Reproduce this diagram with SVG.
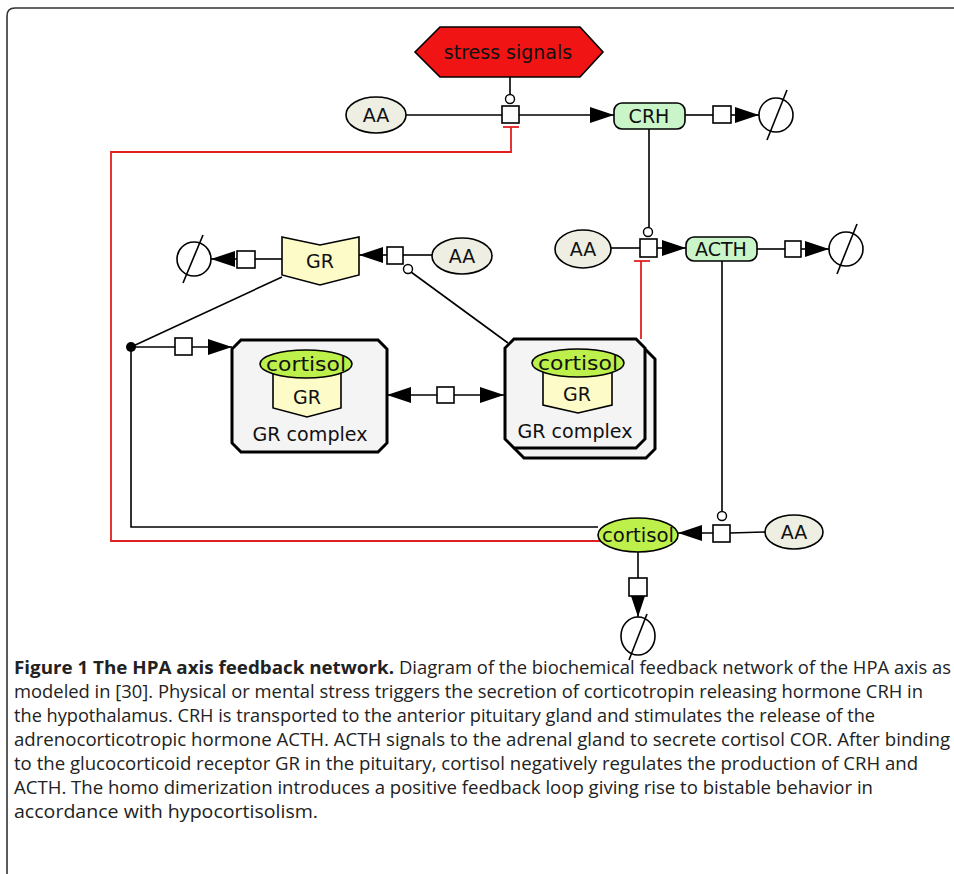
<svg xmlns="http://www.w3.org/2000/svg" width="954" height="874" viewBox="0 0 954 874">
<style>
.ln{fill:none;stroke:#000;stroke-width:1.6}
.red{fill:none;stroke:#e02020;stroke-width:1.8}
.proc{fill:#fff;stroke:#000;stroke-width:1.6}
.aa{fill:#eeeee2;stroke:#000;stroke-width:1.6}
.hor{fill:#c9f5c9;stroke:#000;stroke-width:1.6}
.cort{fill:#bdf04a;stroke:#000;stroke-width:1.6}
.gr{fill:#fdfbc8;stroke:#000;stroke-width:1.6}
.cx{fill:#f4f4f4;stroke:#000;stroke-width:3}
.es{fill:#fff;stroke:#000;stroke-width:1.6}
.mod{fill:#fff;stroke:#000;stroke-width:1.4}
.t{font-family:"DejaVu Sans","Liberation Sans",sans-serif;font-size:19px;fill:#111;text-anchor:middle}
.cap{font-family:"Open Sans","Liberation Sans",sans-serif;font-size:18px;fill:#222}
</style>
<defs>
<marker id="arr" viewBox="0 0 24 16" refX="24" refY="8" markerWidth="24" markerHeight="16" markerUnits="userSpaceOnUse" orient="auto-start-reverse">
<path d="M0,0 L24,8 L0,16 Z" fill="#000"/>
</marker>
</defs>

<path d="M954,8 H15 Q7,8 7,16 V874" fill="none" stroke="#333" stroke-width="1.6"/>

<g id="connectors">
<path class="red" d="M600,541 H111 V152 H511 V127"/>
<line class="red" x1="503" y1="127" x2="519" y2="127"/>
<path class="red" d="M641,339 V261"/>
<line class="red" x1="634" y1="261" x2="650" y2="261"/>
<line class="ln" x1="510" y1="77" x2="510" y2="95"/>
<line class="ln" x1="406" y1="115" x2="502" y2="115"/>
<line class="ln" x1="519" y1="115" x2="614" y2="115" marker-end="url(#arr)"/>
<rect class="proc" x="502" y="106" width="17" height="17"/>
<circle class="mod" cx="510" cy="99" r="4.5"/>
<line class="ln" x1="685" y1="115" x2="713" y2="115"/>
<line class="ln" x1="731" y1="115" x2="759" y2="115" marker-end="url(#arr)"/>
<rect class="proc" x="713" y="106" width="18" height="17"/>
<line class="ln" x1="649" y1="129" x2="649" y2="228"/>
<circle class="mod" cx="648" cy="232" r="4.5"/>
<line class="ln" x1="611" y1="248" x2="640" y2="248"/>
<line class="ln" x1="657" y1="248" x2="686" y2="248" marker-end="url(#arr)"/>
<rect class="proc" x="640" y="239" width="17" height="18"/>
<line class="ln" x1="757" y1="249" x2="785" y2="249"/>
<line class="ln" x1="801" y1="249" x2="829" y2="249" marker-end="url(#arr)"/>
<rect class="proc" x="785" y="241" width="16" height="16"/>
<line class="ln" x1="722" y1="260" x2="722" y2="512"/>
<circle class="mod" cx="722" cy="516" r="4.5"/>
<line class="ln" x1="765" y1="532" x2="730" y2="533"/>
<line class="ln" x1="713" y1="533" x2="678" y2="533" marker-end="url(#arr)"/>
<rect class="proc" x="713" y="525" width="17" height="17"/>
<line class="ln" x1="638" y1="552" x2="638" y2="578"/>
<line class="ln" x1="638" y1="596" x2="638" y2="617" marker-end="url(#arr)"/>
<rect class="proc" x="629" y="578" width="18" height="18"/>
<path class="ln" d="M598,527 H131 V347"/>
<line class="ln" x1="131" y1="347" x2="282" y2="277"/>
<line class="ln" x1="131" y1="347" x2="175" y2="347"/>
<line class="ln" x1="192" y1="347" x2="232" y2="347" marker-end="url(#arr)"/>
<rect class="proc" x="175" y="338" width="17" height="17"/>
<circle cx="131" cy="347" r="5" fill="#000"/>
<line class="ln" x1="437" y1="395" x2="387" y2="395" marker-end="url(#arr)"/>
<line class="ln" x1="454" y1="395" x2="504" y2="395" marker-end="url(#arr)"/>
<rect class="proc" x="437" y="387" width="17" height="16"/>
<line class="ln" x1="282" y1="259" x2="255" y2="259"/>
<line class="ln" x1="237" y1="259" x2="211" y2="259" marker-end="url(#arr)"/>
<rect class="proc" x="237" y="251" width="18" height="17"/>
<line class="ln" x1="432" y1="255" x2="403" y2="255"/>
<line class="ln" x1="387" y1="255" x2="359" y2="255" marker-end="url(#arr)"/>
<line class="ln" x1="411" y1="272" x2="508" y2="343"/>
<rect class="proc" x="387" y="247" width="16" height="17"/>
<circle class="mod" cx="408" cy="269" r="4.5"/>
</g>

<g id="stress">
<polygon points="415,52 440,27 580,27 603,52 580,77 440,77" fill="#f01414" stroke="#000" stroke-width="1.6"/>
<text class="t" x="508" y="59" font-size="20">stress signals</text>
</g>
<g id="aa1"><ellipse class="aa" cx="376" cy="115" rx="30" ry="18"/><text class="t" x="376" y="122">AA</text></g>
<g id="crh"><rect class="hor" x="614" y="103" width="71" height="26" rx="8"/><text class="t" x="649" y="123" font-size="20">CRH</text></g>
<g id="sink1"><circle class="es" cx="776" cy="115" r="17"/><line class="ln" x1="767" y1="140" x2="787" y2="90"/></g>
<g id="aa2"><ellipse class="aa" cx="583" cy="249" rx="28" ry="19"/><text class="t" x="583" y="256">AA</text></g>
<g id="acth"><rect class="hor" x="686" y="237" width="71" height="24" rx="8"/><text class="t" x="721" y="256" font-size="20">ACTH</text></g>
<g id="sink2"><circle class="es" cx="846" cy="249" r="17"/><line class="ln" x1="837" y1="274" x2="857" y2="224"/></g>
<g id="gr">
<polygon class="gr" points="282,237 320,245 359,237 359,275 320,285 282,275"/>
<text class="t" x="320" y="268" font-size="20">GR</text>
</g>
<g id="sink3"><circle class="es" cx="194" cy="259" r="17"/><line class="ln" x1="183" y1="283" x2="203" y2="235"/></g>
<g id="aa3"><ellipse class="aa" cx="462" cy="256" rx="30" ry="18"/><text class="t" x="462" y="263">AA</text></g>
<g id="complex1">
<path class="cx" d="M241,340 H378 L387,349 V443 L378,452 H241 L232,443 V349 Z"/>
<polygon class="gr" points="273,368 341,368 341,408 307,417 273,408"/>
<text class="t" x="307" y="404" font-size="20">GR</text>
<ellipse class="cort" cx="306" cy="364" rx="46" ry="14"/>
<text class="t" x="306" y="371" font-size="19" textLength="80" lengthAdjust="spacingAndGlyphs">cortisol</text>
<text class="t" x="310" y="441" font-size="20" textLength="115" lengthAdjust="spacingAndGlyphs">GR complex</text>
</g>
<g id="complex2">
<path class="cx" d="M524,350 H646 L655,359 V449 L646,458 H524 L515,449 V359 Z"/>
<path class="cx" d="M514,339 H636 L645,348 V439 L636,448 H514 L505,439 V348 Z"/>
<polygon class="gr" points="543,367 612,367 612,405 578,413 543,405"/>
<text class="t" x="577" y="401" font-size="20">GR</text>
<ellipse class="cort" cx="578" cy="363" rx="46" ry="14"/>
<text class="t" x="578" y="370" font-size="19" textLength="80" lengthAdjust="spacingAndGlyphs">cortisol</text>
<text class="t" x="575" y="438" font-size="20" textLength="115" lengthAdjust="spacingAndGlyphs">GR complex</text>
</g>
<g id="cortisol">
<ellipse class="cort" cx="638" cy="535" rx="40" ry="17"/>
<text class="t" x="638" y="542" font-size="20" textLength="72" lengthAdjust="spacingAndGlyphs">cortisol</text>
</g>
<g id="aa4"><ellipse class="aa" cx="794" cy="532" rx="29" ry="17"/><text class="t" x="794" y="539">AA</text></g>
<g id="sink4"><ellipse class="es" cx="638" cy="636" rx="17" ry="19"/><line class="ln" x1="629" y1="660" x2="647" y2="614"/></g>

<g id="caption">
<text class="cap" x="14" y="674" font-weight="bold" textLength="380" lengthAdjust="spacingAndGlyphs">Figure 1 The HPA axis feedback network.</text>
<text class="cap" x="399" y="674" textLength="552" lengthAdjust="spacingAndGlyphs">Diagram of the biochemical feedback network of the HPA axis as</text>
<text class="cap" x="14" y="698" textLength="909" lengthAdjust="spacingAndGlyphs">modeled in [30]. Physical or mental stress triggers the secretion of corticotropin releasing hormone CRH in</text>
<text class="cap" x="14" y="722" textLength="861" lengthAdjust="spacingAndGlyphs">the hypothalamus. CRH is transported to the anterior pituitary gland and stimulates the release of the</text>
<text class="cap" x="14" y="746" textLength="936" lengthAdjust="spacingAndGlyphs">adrenocorticotropic hormone ACTH. ACTH signals to the adrenal gland to secrete cortisol COR. After binding</text>
<text class="cap" x="14" y="770" textLength="904" lengthAdjust="spacingAndGlyphs">to the glucocorticoid receptor GR in the pituitary, cortisol negatively regulates the production of CRH and</text>
<text class="cap" x="14" y="794" textLength="859" lengthAdjust="spacingAndGlyphs">ACTH. The homo dimerization introduces a positive feedback loop giving rise to bistable behavior in</text>
<text class="cap" x="14" y="818" textLength="304" lengthAdjust="spacingAndGlyphs">accordance with hypocortisolism.</text>
</g>
</svg>
